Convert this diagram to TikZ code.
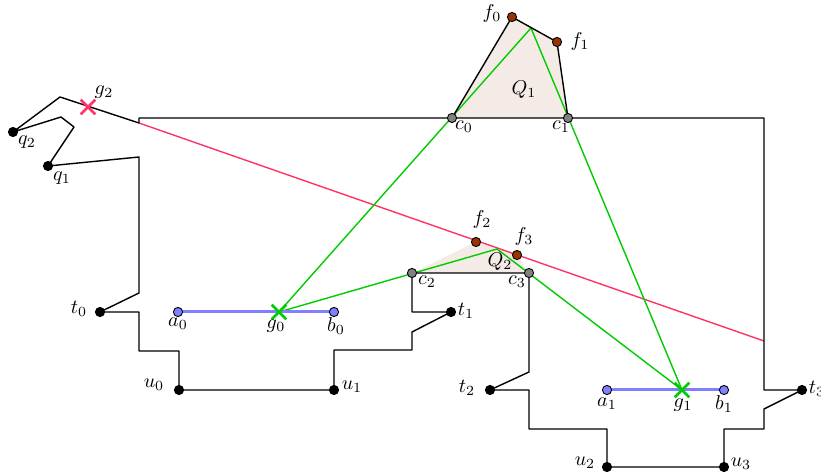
\documentclass[tikz,border=0pt]{standalone}
\usetikzlibrary{shapes.misc}
\definecolor{greencol}{RGB}{0,204,0}
\definecolor{redcol}{RGB}{255,51,102}
\definecolor{bluecol}{RGB}{128,128,255}
\definecolor{fcol}{RGB}{153,51,0}
\definecolor{qfill}{RGB}{244,235,230}
\begin{document}
\begin{tikzpicture}[x=0.5pt,y=-0.5pt,
 edge/.style={line width=0.7pt, line join=round},
 dot/.style={circle, draw=black, line width=0.45pt, inner sep=0pt, minimum size=4.6pt},
 bdot/.style={dot, fill=black},
 cdot/.style={dot, fill=gray},
 fdot/.style={dot, fill=fcol},
 abdot/.style={dot, fill=bluecol},
 gline/.style={draw=greencol, line width=0.7pt},
 rline/.style={draw=redcol, line width=0.7pt},
 seg/.style={draw=bluecol, line width=1.5pt},
 crossmark/.style={cross out, draw=#1, line width=1.3pt, inner sep=0pt, minimum size=6pt},
 lab/.style={inner sep=0pt}]
\useasboundingbox (0,0) rectangle (821,475);
% coordinates
\coordinate (q2) at (13,132);
\coordinate (Pa) at (60,97);
\coordinate (Pb) at (139,123);
\coordinate (Pc) at (139,118);
\coordinate (c0) at (452,118);
\coordinate (c1) at (568,118);
\coordinate (Pd) at (764,118);
\coordinate (Pe) at (764,390);
\coordinate (t3) at (802,390);
\coordinate (Pf) at (764,409);
\coordinate (Pg) at (764,429);
\coordinate (Ph) at (724,429);
\coordinate (u3) at (724,467);
\coordinate (u2) at (607,467);
\coordinate (Pi) at (607,429);
\coordinate (Pj) at (529,429);
\coordinate (Pk) at (529,390);
\coordinate (t2) at (490,390);
\coordinate (Pl) at (529,372);
\coordinate (c3) at (529,273);
\coordinate (c2) at (412,273);
\coordinate (Pm) at (412,312);
\coordinate (t1) at (451,312);
\coordinate (Pn) at (412,332);
\coordinate (Po) at (412,350);
\coordinate (Pp) at (334,350);
\coordinate (u1) at (334,390);
\coordinate (u0) at (179,390);
\coordinate (Pq) at (179,351);
\coordinate (Pr) at (139,351);
\coordinate (Ps) at (139,312);
\coordinate (t0) at (100,312);
\coordinate (Pt) at (139,293);
\coordinate (Pu) at (139,157);
\coordinate (q1) at (48,166);
\coordinate (Pv) at (74,127);
\coordinate (Pw) at (61,117);
\coordinate (f0) at (512,17);
\coordinate (f1) at (557,42);
\coordinate (h1) at (531,28);
\coordinate (f2) at (476,242);
\coordinate (f3) at (517,255);
\coordinate (h2) at (497,249);
\coordinate (g0) at (279,312);
\coordinate (g1) at (682,390);
\coordinate (g2) at (88,107);
\coordinate (a0) at (178,312);
\coordinate (b0) at (334,312);
\coordinate (a1) at (607,390);
\coordinate (b1) at (724,390);
\coordinate (rEnd) at (764,341);
% fills
\fill[qfill] (c0) -- (f0) -- (f1) -- (c1) -- cycle;
\fill[qfill] (c2) -- (f2) -- (f3) -- (c3) -- cycle;
% red line
\draw[rline] (Pb) -- (rEnd);
% green lines
\draw[gline] (h1) -- (g0);
\draw[gline] (h1) -- (g1);
\draw[gline] (g0) -- (h2) -- (g1);
% polygon
\draw[edge] (q2) -- (Pa) -- (Pb) -- (Pc) -- (c0) -- (c1) -- (Pd) -- (Pe) -- (t3) -- (Pf) -- (Pg) -- (Ph) -- (u3) -- (u2) -- (Pi) -- (Pj) -- (Pk) -- (t2) -- (Pl) -- (c3) -- (c2) -- (Pm) -- (t1) -- (Pn) -- (Po) -- (Pp) -- (u1) -- (u0) -- (Pq) -- (Pr) -- (Ps) -- (t0) -- (Pt) -- (Pu) -- (q1) -- (Pv) -- (Pw) -- cycle;
\draw[edge] (c0) -- (f0) -- (f1) -- (c1);
% blue segments
\draw[seg] (a0) -- (b0);
\draw[seg] (a1) -- (b1);
% dots
\foreach \p in {q1,q2,t0,t1,t2,t3,u0,u1,u2,u3} \node[bdot] (n\p) at (\p) {};
\foreach \p in {c0,c1,c2,c3} \node[cdot] (n\p) at (\p) {};
\foreach \p in {f0,f1,f2,f3} \node[fdot] (n\p) at (\p) {};
\foreach \p in {a0,b0,a1,b1} \node[abdot] (n\p) at (\p) {};
\node[crossmark=greencol] (ng0) at (g0) {};
\node[crossmark=greencol] (ng1) at (g1) {};
\node[crossmark=redcol] (ng2) at (g2) {};
% labels
\node[lab] (lf0) at (492,14) {$f_0$};
\node[lab] (lf1) at (580,42) {$f_1$};
\node[lab] (lc0) at (464,127) {$c_0$};
\node[lab] (lc1) at (561,127) {$c_1$};
\node[lab] (lQ1) at (524,90) {$Q_1$};
\node[lab] (lf2) at (482,220) {$f_2$};
\node[lab] (lf3) at (524,237) {$f_3$};
\node[lab] (lc2) at (427,282) {$c_2$};
\node[lab] (lc3) at (517,282) {$c_3$};
\node[lab] (lQ2) at (500,262) {$Q_2$};
\node[lab] (lt1) at (466,311) {$t_1$};
\node[lab] (lt0) at (79,309) {$t_0$};
\node[lab] (la0) at (178,324) {$a_0$};
\node[lab] (lg0) at (276,326) {$g_0$};
\node[lab] (lb0) at (336,326) {$b_0$};
\node[lab] (lu0) at (154,385) {$u_0$};
\node[lab] (lu1) at (352,387) {$u_1$};
\node[lab] (lt2) at (467,388) {$t_2$};
\node[lab] (la1) at (607,404) {$a_1$};
\node[lab] (lg1) at (683,405) {$g_1$};
\node[lab] (lb1) at (724,404) {$b_1$};
\node[lab] (lu2) at (585,463) {$u_2$};
\node[lab] (lu3) at (741,464) {$u_3$};
\node[lab] (lt3) at (817,389) {$t_3$};
\node[lab] (lq2) at (27,142) {$q_2$};
\node[lab] (lq1) at (62,178) {$q_1$};
\node[lab] (lg2) at (104,92) {$g_2$};
\end{tikzpicture}
\end{document}
